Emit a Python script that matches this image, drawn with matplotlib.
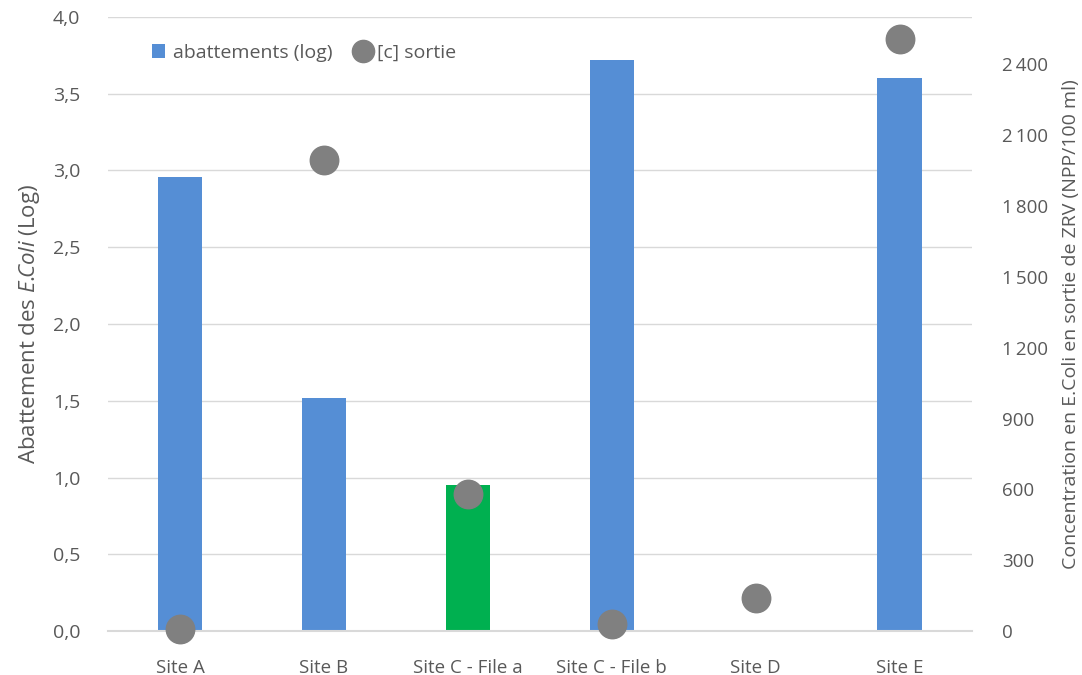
import matplotlib
matplotlib.use("Agg")
import matplotlib.pyplot as plt
from matplotlib.ticker import FuncFormatter, MultipleLocator
from matplotlib.lines import Line2D
from matplotlib.patches import Patch

plt.rcParams['font.family'] = ['Open Sans', 'DejaVu Sans']
plt.rcParams['mathtext.fontset'] = 'custom'
plt.rcParams['mathtext.it'] = 'Open Sans:italic'
plt.rcParams['mathtext.rm'] = 'Open Sans'

sites = ["Site A", "Site B", "Site C - File a", "Site C - File b", "Site D", "Site E"]
abattements = [2.96, 1.52, 0.95, 3.72, 0.0, 3.60]
concentration_sortie = [10, 1995, 580, 30, 140, 2505]
bar_colors = ["#558ED5", "#558ED5", "#00B050", "#558ED5", "#558ED5", "#558ED5"]

text_color = "#595959"
grid_color = "#D9D9D9"

fig = plt.figure(figsize=(10.82, 6.75), dpi=100)
ax = fig.add_axes([0.1, 0.065, 0.798, 0.91])
ax2 = ax.twinx()

x = list(range(len(sites)))
ax.bar(x, abattements, width=0.31, color=bar_colors, zorder=2)
ax2.scatter(x, concentration_sortie, s=420, color="#808080", zorder=3, clip_on=False)

ax.set_xlim(-0.5, len(sites) - 0.5)
ax.set_ylim(0, 4.0)
ax2.set_ylim(0, 2600)

ax.yaxis.set_major_locator(MultipleLocator(0.5))
ax.yaxis.set_major_formatter(FuncFormatter(lambda v, p: f"{v:.1f}".replace(".", ",")))
ax2.set_yticks(range(0, 2401, 300))
ax2.yaxis.set_major_formatter(FuncFormatter(lambda v, p: f"{int(v):,}".replace(",", "\u2009")))

ax.grid(axis="y", color=grid_color, linewidth=1, zorder=0)
ax.set_axisbelow(True)
ax.set_xticks(x)
ax.set_xticklabels(sites)

for a in (ax, ax2):
    for s in a.spines.values():
        s.set_visible(False)
    a.tick_params(length=0, colors=text_color, labelsize=14)
ax.spines["bottom"].set_visible(True)
ax.spines["bottom"].set_color(grid_color)
ax.spines["bottom"].set_linewidth(1.5)
ax.tick_params(axis="x", pad=20, labelsize=13.5)
ax.tick_params(axis="y", pad=20)
ax2.tick_params(axis="y", pad=22, labelsize=13.5)

ax.set_ylabel(r"Abattement des $\mathit{E.\!\!Coli}$ (Log)", color=text_color, fontsize=16, labelpad=8)
ax2.set_ylabel("Concentration en E.Coli en sortie de ZRV (NPP/100 ml)", color=text_color,
               fontsize=14, labelpad=10)

handles = [Patch(facecolor="#558ED5", label="abattements (log)"),
           Line2D([], [], marker="o", linestyle="none", color="#808080", markersize=16,
                  label="[c] sortie")]
leg = ax.legend(handles=handles, loc="upper left", bbox_to_anchor=(0.03, 0.985), ncol=2,
                frameon=False, fontsize=14, handlelength=0.7, handleheight=0.7,
                handletextpad=0.4, columnspacing=1.2)
for t in leg.get_texts():
    t.set_color(text_color)

fig.savefig("out.png", dpi=100)
